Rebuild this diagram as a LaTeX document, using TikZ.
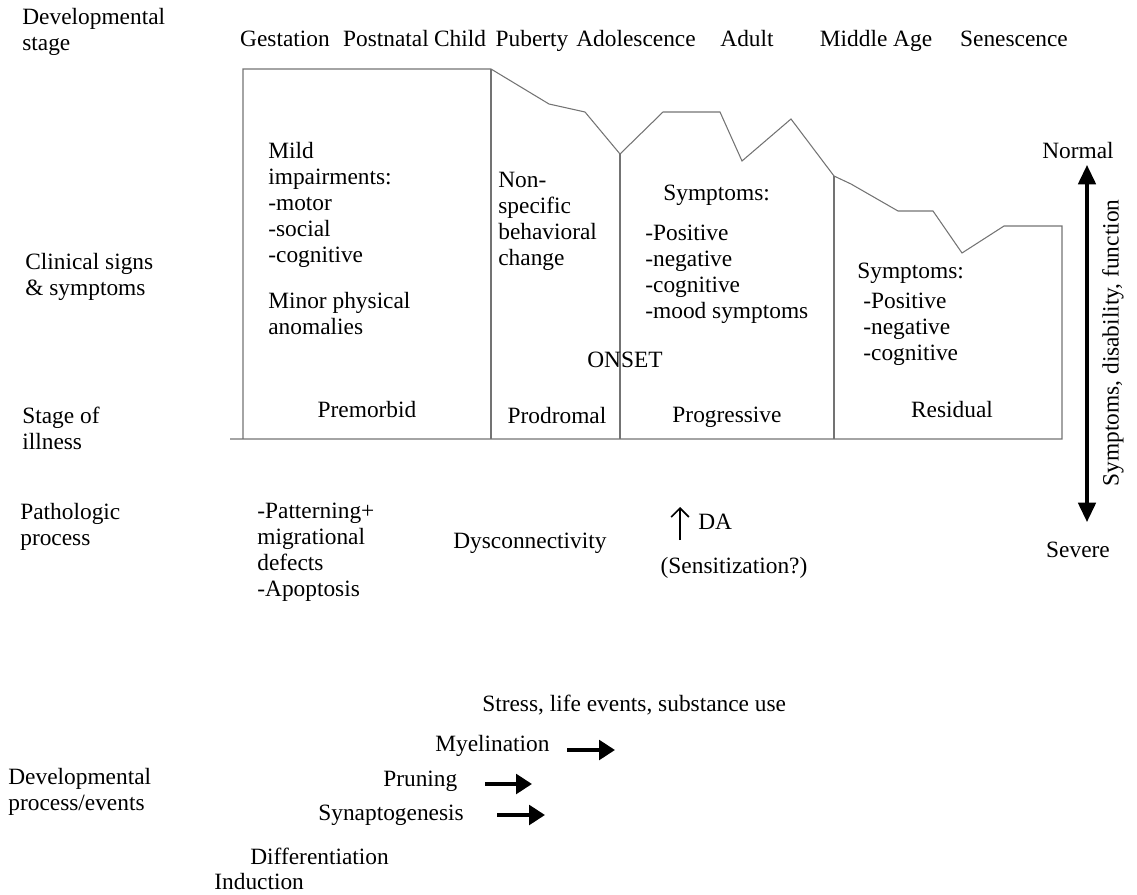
\documentclass[tikz,border=0pt]{standalone}
\usepackage{fontspec}
\setmainfont{Liberation Serif}
\usetikzlibrary{arrows.meta}
\begin{document}
\begin{tikzpicture}
		[x=0.02cm, y=-0.02cm,
		every node/.style={font=\fontsize{13.3}{14.8}\selectfont, inner sep=0pt},
		txt/.style={anchor=west, align=left},
		mid/.style={anchor=center},
		stage/.style={anchor=base},
		outline/.style={draw=black!55, line width=0.6pt},
		fat/.style={line width=2.4pt, -{Triangle[length=9pt, width=11pt]}},
		scale arrow/.style={line width=1.8pt, {Triangle[length=11pt, width=10pt]}-{Triangle[length=11pt, width=10pt]}},
		thin arrow/.style={line width=1pt, -{Straight Barb[length=5pt, width=10pt]}}]
		\useasboundingbox (0,0) rectangle (1137,895);
		\node[txt] (devstage) at (22,32) {Developmental\\stage};
		\node[txt] (clinical) at (25,277) {Clinical signs\\\& symptoms};
		\node[txt] (illness) at (22,428) {Stage of\\illness};
		\node[txt] (patho) at (20,527) {Pathologic\\process};
		\node[txt] (devproc) at (8,792) {Developmental\\process/events};
		\node[stage] (gest) at (285,47) {Gestation};
		\node[stage] (postnatal) at (386,47) {Postnatal};
		\node[stage] (child) at (460,47) {Child};
		\node[stage] (puberty) at (532,47) {Puberty};
		\node[stage] (adolesc) at (636,47) {Adolescence};
		\node[stage] (adult) at (747,47) {Adult};
		\node[stage] (middle) at (876,47) {Middle Age};
		\node[stage] (senesc) at (1014,47) {Senescence};
		\draw[outline] (243,439) -- (243,69) -- (491,69) -- (549,104) -- (585,112) -- (620,154)
			-- (663,112) -- (720,112) -- (742,161) -- (791,119) -- (834,176) -- (851,184)
			-- (898,211) -- (933,211) -- (962,253) -- (1004,226) -- (1062,226) -- (1062,439)
			-- (230,439);
		\draw[outline] (491,69) -- (491,439);
		\draw[outline] (620,154) -- (620,439);
		\draw[outline] (834,176) -- (834,439);
		\node[txt] (mild) at (268,205) {Mild\\impairments:\\-motor\\-social\\-cognitive};
		\node[txt] (minor) at (268,314) {Minor physical\\anomalies};
		\node[txt] (nonspec) at (498,221) {Non-\\specific\\behavioral\\change};
		\node[txt] (symp) at (663,195) {Symptoms:};
		\node[txt] (symplist) at (645,274) {-Positive\\-negative\\-cognitive\\-mood symptoms};
		\node[stage] (onset) at (625,368) {ONSET};
		\node[txt] (resymp) at (857,273) {Symptoms:};
		\node[txt] (resymplist) at (863,329) {-Positive\\-negative\\-cognitive};
		\node[stage] (premorbid) at (367,418) {Premorbid};
		\node[stage] (prodromal) at (557,423) {Prodromal};
		\node[mid] (progressive) at (727,417) {Progressive};
		\node[stage] (residual) at (952,418) {Residual};
		\node[stage] (normal) at (1078,159) {Normal};
		\node[stage] (severe) at (1078,557) {Severe};
		\coordinate (axtop) at (1087,165);
		\coordinate (axbot) at (1087,522);
		\draw[scale arrow] (axbot) -- (axtop);
		\node[mid, rotate=90] (axis) at (1113,343) {Symptoms, disability, function};
		\node[txt] (pattern) at (257,552) {-Patterning+\\migrational\\defects\\-Apoptosis};
		\node[txt] (dyscon) at (453,543) {Dysconnectivity};
		\coordinate (daup) at (680,507);
		\coordinate (dalow) at (680,540);
		\draw[thin arrow] (dalow) -- (daup);
		\node[txt] (da) at (698,522) {DA};
		\node[mid] (sensit) at (734,568) {(Sensitization?)};
		\node[txt] (stress) at (482,705) {Stress, life events, substance use};
		\node[txt] (myel) at (435,746) {Myelination};
		\node[txt] (prun) at (383,781) {Pruning};
		\node[txt] (synap) at (318,815) {Synaptogenesis};
		\node[txt] (diff) at (250,856) {Differentiation};
		\node[txt] (induct) at (214,882) {Induction};
		\coordinate (myelstart) at (567,750);
		\coordinate (myelend) at (615,750);
		\coordinate (prunstart) at (485,784);
		\coordinate (prunend) at (532,784);
		\coordinate (synapstart) at (497,815);
		\coordinate (synapend) at (545,815);
		\draw[fat] (myelstart) -- (myelend);
		\draw[fat] (prunstart) -- (prunend);
		\draw[fat] (synapstart) -- (synapend);
	\end{tikzpicture}
\end{document}
